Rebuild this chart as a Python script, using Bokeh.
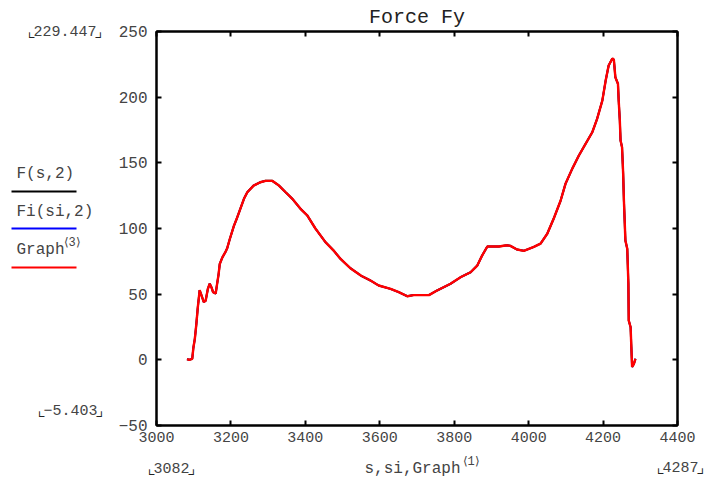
from bokeh.plotting import figure
from bokeh.layouts import row, column
from bokeh.models import Range1d, LinearAxis, FixedTicker, Title
from bokeh.core.properties import value
from bokeh.embed import file_html
from bokeh.resources import INLINE

# Force Fy along the path coordinate s (three overlaid traces)
s = [3082, 3088, 3096, 3099, 3103, 3107, 3111, 3116, 3121, 3127, 3132, 3138,
     3143, 3148, 3152, 3159, 3163, 3167, 3170, 3177, 3185, 3190, 3197, 3208,
     3215, 3224, 3235, 3244, 3261, 3279, 3293, 3311, 3329, 3347, 3365, 3387,
     3405, 3427, 3454, 3476, 3494, 3520, 3550, 3575, 3597, 3629, 3651, 3674,
     3691, 3732, 3754, 3790, 3817, 3844, 3862, 3875, 3889, 3920, 3942, 3951,
     3969, 3987, 4014, 4032, 4050, 4068, 4086, 4099, 4117, 4135, 4153, 4171,
     4184, 4198, 4207, 4215, 4225, 4229, 4233, 4240, 4242, 4245, 4247, 4251,
     4254, 4256, 4260, 4265, 4268, 4269, 4274, 4276, 4278, 4283, 4287]
fy = [0.5, 0.0, 0.8, 9, 16, 27, 40, 53, 49, 44, 45, 54,
      58, 55, 51.5, 50.5, 58, 65.5, 73, 78, 82, 85, 92, 102,
      107, 114, 122.6, 127.6, 132.7, 135.2, 136.3, 136.3, 132.7, 127.6, 122.6, 115,
      110, 100, 89.6, 83.2, 77, 70, 64, 60.4, 56.6, 54, 51.5, 48.4,
      49.3, 49.3, 52.8, 57.9, 62.9, 66.7, 71.8, 79.4, 86.3, 86.3, 87.2, 86.8,
      84, 83, 86, 88.5, 96, 108, 121.3, 134, 145.4, 155.6, 164.5, 173.3,
      183.5, 197.4, 212.7, 224.1, 229.447, 228.5, 215.2, 210.2, 197.4, 182.2, 167, 161.9,
      141.6, 121.3, 90.8, 84.5, 57.9, 29.9, 24.8, 9.6, -5.403, -3, 0.8]

x_ticks = [3000, 3200, 3400, 3600, 3800, 4000, 4200, 4400]
y_ticks = [-50, 0, 50, 100, 150, 200, 250]
y_tick_text = {-50: "\u221250"}

series_names = ["F(s,2)", "Fi(si,2)", "Graph"]
series_colors = ["#000000", "#0000ff", "#ff0000"]
series_widths = [2.0, 1.6, 2.4]

s_min, s_max = 3082, 4287
f_max, f_min = 229.447, -5.403

X0, X1 = 3000, 4400
Y0, Y1 = -50, 250
W, H = 721, 483
SIDE_W = 108           # left strip with legend and range markers
FOOT_H = 31            # bottom strip with axis title and range markers
MAIN_W, MAIN_H = W - SIDE_W, H - FOOT_H

FONT = "Liberation Mono"
TXT = "#444444"
CHAR_W = 0.6           # monospace advance, in em


def strip(w, h, x0, y0):
    """Blank figure whose data coordinates equal page pixels (y downward)."""
    f = figure(width=w, height=h, output_backend="svg", toolbar_location=None,
               x_range=Range1d(x0, x0 + w), y_range=Range1d(y0 + h, y0),
               x_axis_type=None, y_axis_type=None,
               min_border=0, min_border_left=0, min_border_right=0,
               min_border_top=0, min_border_bottom=0)
    f.outline_line_color = None
    f.xgrid.visible = False
    f.ygrid.visible = False
    f.background_fill_color = "white"
    f.border_fill_color = "white"
    return f


def put(f, x, y, text, size=15, align="left", color=TXT, font=FONT,
        baseline="middle"):
    f.text(x=[x], y=[y], text=[text], text_font=value(font),
           text_font_size=value(f"{size}px"), text_color=color,
           text_align=align, text_baseline=baseline)


def marker(f, x, y, number, size=15):
    """Range value framed by corner brackets; x is the left edge of the number."""
    w = len(number) * CHAR_W * size
    put(f, x, y, number, size)
    base = y + 0.36 * size - 5
    put(f, x + 3.5, base, "\u231e", 17, align="right", color="#222222",
        font="DejaVu Sans Mono", baseline="alphabetic")
    put(f, x + w - 3.5, base, "\u231f", 17, align="left", color="#222222",
        font="DejaVu Sans Mono", baseline="alphabetic")


# ---- main plot -------------------------------------------------------------
p = figure(width=MAIN_W, height=MAIN_H, output_backend="svg",
           toolbar_location=None,
           x_range=Range1d(X0, X1), y_range=Range1d(Y0, Y1),
           min_border_left=48, min_border_right=44,
           min_border_top=31, min_border_bottom=27,
           x_axis_type=None, y_axis_type=None)
p.background_fill_color = "white"
p.border_fill_color = "white"
p.outline_line_color = "black"
p.outline_line_width = 2
p.xgrid.visible = False
p.ygrid.visible = False
p.title = Title(text="Force Fy", align="center", text_font=FONT,
                text_font_size="20px", text_font_style="normal",
                text_color="#222222", standoff=5)


def make_axis(ticks, show_labels, size="15px", overrides=None):
    ax = LinearAxis(ticker=FixedTicker(ticks=ticks))
    ax.major_tick_in = 5
    ax.major_tick_out = 0
    ax.major_tick_line_width = 2
    ax.major_tick_line_color = "black"
    ax.minor_tick_line_color = None
    ax.axis_line_width = 2
    ax.axis_line_color = "black"
    ax.major_label_text_font = FONT
    ax.major_label_text_color = TXT
    if show_labels:
        ax.major_label_text_font_size = size
        if overrides:
            ax.major_label_overrides = overrides
    else:
        ax.major_label_text_font_size = "1px"
        ax.major_label_standoff = 0
        ax.major_label_text_color = None
    return ax


left = make_axis(y_ticks, True, "16px", y_tick_text)
left.major_label_standoff = 9
bottom = make_axis(x_ticks, True, "15px")
bottom.major_label_standoff = 6
p.add_layout(left, "left")
p.add_layout(bottom, "below")
p.add_layout(make_axis(y_ticks, False), "right")
p.add_layout(make_axis(x_ticks, False), "above")

# curves: black, blue, then red on top
for col, lw in zip(series_colors, series_widths):
    p.line(s, fy, line_color=col, line_width=lw)

# ---- left strip: range markers of F and the legend --------------------------
side = strip(SIDE_W, MAIN_H, 0, 0)
marker(side, 33, 30, f"{f_max:g}")
marker(side, 43, 409, f"{f_min:g}".replace("-", "\u2212"))

legend_rows = [(173, 191), (211, 228), (249, 267)]
for name, col, (ty, ly) in zip(series_names, series_colors, legend_rows):
    put(side, 16, ty, name, size=16)
    side.line([11, 76], [ly, ly], line_color=col, line_width=2)
put(side, 63, 242, "\u27e83\u27e9", size=12)

# ---- bottom strip: range markers of s and the axis title --------------------
foot = strip(W, FOOT_H, 0, MAIN_H)
marker(foot, 153, 467, str(s_min))
marker(foot, 662, 466, str(s_max))
put(foot, 364, 468, "s,si,Graph", size=16)
put(foot, 462, 461, "\u27e81\u27e9", size=12)

layout = column(row(side, column(p)), foot)
open("out.html", "w").write(file_html(layout, INLINE))
